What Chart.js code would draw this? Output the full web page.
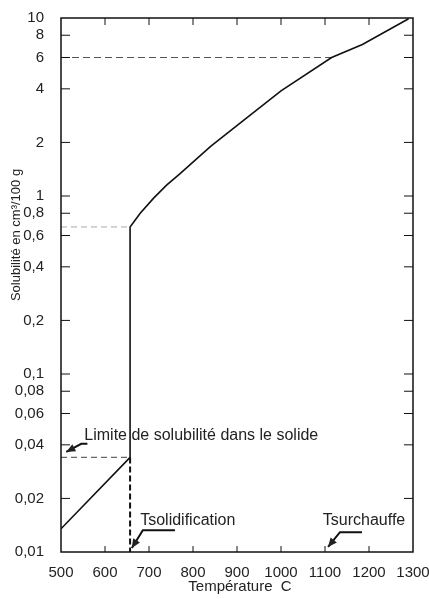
<!DOCTYPE html>
<html>
<head>
<meta charset="utf-8">
<title>Solubilité</title>
<script src="https://cdn.jsdelivr.net/npm/chart.js@4.4.1/dist/chart.umd.min.js"></script>
<style>
  html, body { margin: 0; padding: 0; background: #fff; }
</style>
</head>
<body>
<canvas id="solChart" width="429" height="599"></canvas>
<script>
// data
const curveTemp = [500, 657, 657, 680, 710, 740, 770, 840, 930, 1000, 1115, 1185, 1290];
const curveSol = [0.0135, 0.034, 0.67, 0.8, 0.97, 1.15, 1.33, 1.9, 2.85, 3.9, 6.0, 7.1, 9.9];

const limitTemp = [500, 657];
const limitSol = [0.034, 0.034];
const solidTemp = [657, 657];
const solidSol = [0.034, 0.01];
const liquidTemp = [500, 657];
const liquidSol = [0.67, 0.67];
const superTemp = [500, 1115];
const superSol = [6, 6];

const xTicks = [500, 600, 700, 800, 900, 1000, 1100, 1200, 1300];
const yTicks = [0.01, 0.02, 0.04, 0.06, 0.08, 0.1, 0.2, 0.4, 0.6, 0.8, 1, 2, 4, 6, 8, 10];

const FONT = "'Liberation Sans', Arial, sans-serif";

const pts = (xs, ys) => xs.map((x, i) => ({ x: x, y: ys[i] }));
const fmt = v => String(v).replace(".", ",");

function dashed(data, color, width, dash) {
  return { data: data, borderColor: color, borderWidth: width, borderDash: dash, pointRadius: 0, fill: false };
}

// frame, inner ticks, titles and labels
const decorPlugin = {
  id: "decor",
  afterDraw(chart) {
    const { ctx, chartArea: a, scales } = chart;
    const px = v => scales.x.getPixelForValue(v);
    const py = v => scales.y.getPixelForValue(v);
    ctx.save();
    ctx.strokeStyle = "#111";
    ctx.lineWidth = 1.5;
    ctx.strokeRect(a.left, a.top, a.right - a.left, a.bottom - a.top);

    ctx.lineWidth = 1;
    ctx.beginPath();
    yTicks.slice(1, -1).forEach(v => {
      const y = py(v);
      ctx.moveTo(a.left, y); ctx.lineTo(a.left + 9, y);
      ctx.moveTo(a.right, y); ctx.lineTo(a.right - 9, y);
    });
    xTicks.slice(1, -1).forEach(v => {
      const x = px(v);
      ctx.moveTo(x, a.top); ctx.lineTo(x, a.top + 7);
      ctx.moveTo(x, a.bottom); ctx.lineTo(x, a.bottom - 6);
    });
    ctx.stroke();

    ctx.fillStyle = "#222";
    // axis titles
    ctx.font = "15px " + FONT;
    ctx.textAlign = "center";
    ctx.textBaseline = "middle";
    ctx.fillText("Température  C", 240, 587);
    ctx.save();
    ctx.translate(16, 235);
    ctx.rotate(-Math.PI / 2);
    ctx.font = "13px " + FONT;
    ctx.fillText("Solubilité en cm³/100 g", 0, 0);
    ctx.restore();

    // notes with arrows
    ctx.font = "16px " + FONT;
    ctx.textAlign = "left";
    ctx.fillText("Limite de solubilité dans le solide", px(553), py(0.045));
    ctx.fillText("Tsolidification", px(680), py(0.0151));
    ctx.fillText("Tsurchauffe", px(1095), py(0.0151));

    const arrows = [
      [[560, 0.0405], [546, 0.0405], [512, 0.0365]],
      [[759, 0.01327], [686, 0.01327], [661, 0.01053]],
      [[1184, 0.01293], [1134, 0.01293], [1107, 0.01067]]
    ];
    arrows.forEach(arr => {
      const p = arr.map(q => [px(q[0]), py(q[1])]);
      ctx.lineWidth = 2;
      ctx.beginPath();
      ctx.moveTo(p[0][0], p[0][1]);
      for (let i = 1; i < p.length; i++) ctx.lineTo(p[i][0], p[i][1]);
      ctx.stroke();
      const [x1, y1] = p[p.length - 2];
      const [x2, y2] = p[p.length - 1];
      const ang = Math.atan2(y2 - y1, x2 - x1);
      ctx.beginPath();
      ctx.moveTo(x2, y2);
      ctx.lineTo(x2 - 9 * Math.cos(ang) + 4 * Math.sin(ang), y2 - 9 * Math.sin(ang) - 4 * Math.cos(ang));
      ctx.lineTo(x2 - 9 * Math.cos(ang) - 4 * Math.sin(ang), y2 - 9 * Math.sin(ang) + 4 * Math.cos(ang));
      ctx.closePath();
      ctx.fill();
    });
    ctx.restore();
  }
};

new Chart(document.getElementById("solChart"), {
  type: "line",
  data: {
    datasets: [
      { data: pts(curveTemp, curveSol), borderColor: "#111", borderWidth: 1.6, pointRadius: 0, fill: false, tension: 0 },
      dashed(pts(limitTemp, limitSol), "#666", 1.2, [6, 4]),
      dashed(pts(solidTemp, solidSol), "#111", 2, [6, 3]),
      dashed(pts(liquidTemp, liquidSol), "#aaa", 1, [6, 4]),
      dashed(pts(superTemp, superSol), "#555", 1.2, [7, 4])
    ]
  },
  options: {
    responsive: false,
    animation: false,
    layout: { padding: { top: 15, right: 16, left: 0, bottom: 0 } },
    plugins: { legend: { display: false }, tooltip: { enabled: false } },
    scales: {
      x: {
        type: "linear",
        min: 500,
        max: 1300,
        afterBuildTicks: s => { s.ticks = xTicks.map(v => ({ value: v })); },
        afterFit: s => { s.height = 47; s.paddingRight = 10; s.paddingLeft = 0; },
        grid: { display: false },
        border: { display: false },
        ticks: { color: "#222", font: { family: FONT, size: 15 }, padding: 4, maxRotation: 0, autoSkip: false, callback: v => String(v) }
      },
      y: {
        type: "logarithmic",
        min: 0.01,
        max: 10,
        afterBuildTicks: s => { s.ticks = yTicks.map(v => ({ value: v })); },
        afterFit: s => { s.width = 61; },
        grid: { display: false },
        border: { display: false },
        ticks: { color: "#222", font: { family: FONT, size: 15 }, padding: 9, autoSkip: false, callback: v => fmt(v) }
      }
    }
  },
  plugins: [decorPlugin]
});
</script>
</body>
</html>
